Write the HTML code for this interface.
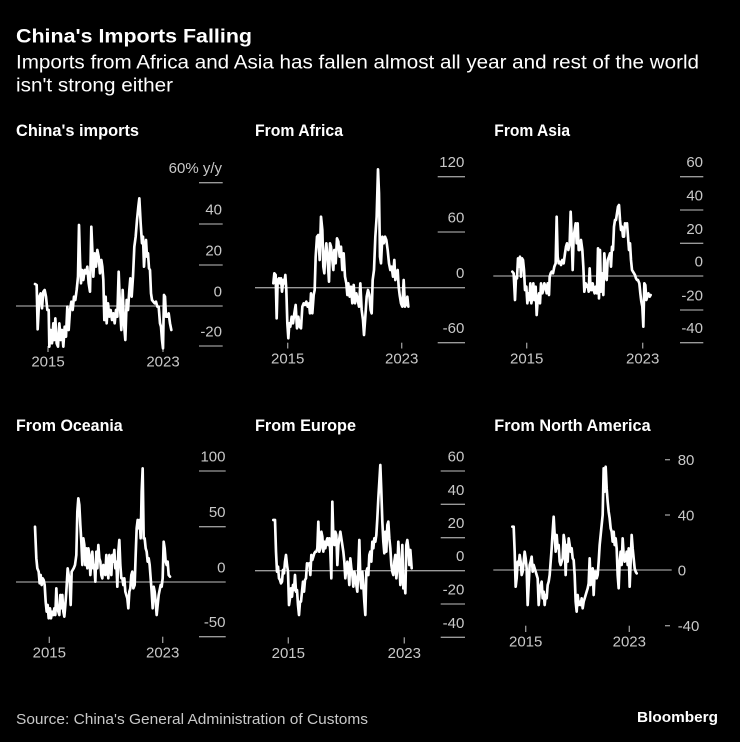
<!DOCTYPE html>
<html>
<head>
<meta charset="utf-8">
<style>
html,body{margin:0;padding:0;background:#000;}
body{width:740px;height:742px;overflow:hidden;}
svg{display:block;}
text{font-family:"Liberation Sans",sans-serif;}
.t{fill:#fff;font-weight:bold;}
.st{fill:#fff;}
.pt{fill:#fff;font-weight:bold;font-size:16.5px;}
.yl{fill:#c8c8c8;font-size:15px;text-anchor:end;}
.yl6{fill:#c8c8c8;font-size:15px;}
.xl{fill:#c8c8c8;font-size:15px;text-anchor:middle;}
.g{stroke:#9a9a9a;stroke-width:1.3;}
.tk{stroke:#9a9a9a;stroke-width:1.3;}
.d{fill:none;stroke:#fff;stroke-width:8;stroke-linejoin:round;stroke-linecap:round;}
</style>
</head>
<body>
<svg width="740" height="742" viewBox="0 0 740 742" xmlns="http://www.w3.org/2000/svg">
<rect width="740" height="742" fill="#000"/>

<text class="t" x="16" y="42.3" font-size="19.5" textLength="236" lengthAdjust="spacingAndGlyphs">China's Imports Falling</text>
<text class="st" x="16" y="68.3" font-size="19" textLength="683" lengthAdjust="spacingAndGlyphs">Imports from Africa and Asia has fallen almost all year and rest of the world</text>
<text class="st" x="16" y="91.3" font-size="19" textLength="157" lengthAdjust="spacingAndGlyphs">isn't strong either</text>

<!-- Panel 1 -->
<text class="pt" x="16" y="136" textLength="123" lengthAdjust="spacingAndGlyphs">China's imports</text>
<line class="g" x1="199" x2="222.7" y1="182.7" y2="182.7"/>
<line class="g" x1="199" x2="222.7" y1="224" y2="224"/>
<line class="g" x1="199" x2="222.7" y1="265" y2="265"/>
<line class="g" x1="199" x2="222.7" y1="346" y2="346"/>
<text class="yl" x="222" y="173.2">60% y/y</text>
<text class="yl" x="222" y="214.5">40</text>
<text class="yl" x="222" y="255.5">20</text>
<text class="yl" x="222" y="296.5">0</text>
<text class="yl" x="222" y="336.5">-20</text>
<line class="tk" x1="48" x2="48" y1="346" y2="352"/>
<line class="tk" x1="163" x2="163" y1="346" y2="352"/>
<text class="xl" x="48" y="366.7">2015</text>
<text class="xl" x="163" y="366.7">2023</text>
<line class="g" x1="16" x2="222.7" y1="306" y2="306"/>
<g transform="translate(0,110) scale(0.333333)">
<polyline class="d" points="105,522 110,525 113,658 118,560 122,550 126,595 130,545 134,540 138,560 142,600 146,600 148,710 152,660 156,700 160,640 163,690 166,625 170,700 174,710 178,640 182,690 186,660 190,710 194,650 198,680 202,590 206,660 210,600 214,575 218,600 222,560 226,570 230,540 234,500 237,345 240,450 243,520 246,480 250,510 254,480 258,490 262,470 266,520 270,545 274,350 277,420 280,500 284,430 288,470 292,420 296,440 300,490 304,450 307,470 310,510 313,630 317,560 320,640 324,580 328,620 332,600 336,630 340,610 344,640 348,600 352,620 356,485 360,590 364,660 368,540 372,640 376,690 380,570 384,600 388,540 391,505 395,560 399,500 403,410 407,380 411,330 415,290 418,265 422,340 426,400 429,380 432,470 435,420 438,390 441,440 444,430 447,475 450,480 453,550 456,570 460,575 464,580 468,575 472,590 476,590 480,640 483,650 486,690 489,715 492,555 495,560 498,620 502,620 506,610 510,640 514,660"/>
</g>

<!-- Panel 2 -->
<text class="pt" x="255" y="136" textLength="88" lengthAdjust="spacingAndGlyphs">From Africa</text>
<line class="g" x1="437.7" x2="465" y1="176.7" y2="176.7"/>
<line class="g" x1="437.7" x2="465" y1="232" y2="232"/>
<line class="g" x1="437.7" x2="465" y1="342.7" y2="342.7"/>
<text class="yl" x="464.3" y="167.2">120</text>
<text class="yl" x="464.3" y="222.5">60</text>
<text class="yl" x="464.3" y="278.2">0</text>
<text class="yl" x="464.3" y="333.2">-60</text>
<line class="tk" x1="287.7" x2="287.7" y1="342.7" y2="348.5"/>
<line class="tk" x1="401.7" x2="401.7" y1="342.7" y2="348.5"/>
<text class="xl" x="287.7" y="363.4">2015</text>
<text class="xl" x="401.7" y="363.4">2023</text>
<line class="g" x1="255" x2="465" y1="287.7" y2="287.7"/>
<g transform="translate(245,110) scale(0.333333)">
<polyline class="d" points="85,520 88,490 92,495 95,625 98,510 102,505 105,520 108,505 111,545 115,510 118,520 121,495 124,540 127,640 130,685 133,640 136,650 140,620 144,640 148,610 152,585 156,655 160,620 164,650 168,655 172,590 176,580 180,585 184,575 188,590 192,580 195,610 198,550 202,610 206,555 209,540 212,440 216,380 220,375 224,450 228,320 232,360 235,470 238,490 241,430 244,400 248,450 252,515 255,400 258,410 262,450 265,480 268,420 272,460 276,385 280,395 284,440 288,410 292,480 296,430 300,500 304,520 307,555 310,520 314,560 318,530 322,580 326,525 330,580 334,550 338,570 342,590 346,520 350,600 354,630 357,675 361,620 365,560 369,540 373,555 377,600 380,610 383,510 387,480 391,380 395,320 399,178 402,250 405,440 408,460 412,380 416,400 420,380 424,390 428,420 432,460 436,480 440,470 444,500 448,450 451,510 455,490 458,480 461,530 464,555 468,580 472,590 476,510 480,590 484,580 487,560 490,590"/>
</g>

<!-- Panel 3 -->
<text class="pt" x="494.3" y="136" textLength="75.7" lengthAdjust="spacingAndGlyphs">From Asia</text>
<line class="g" x1="680" x2="703.3" y1="176.7" y2="176.7"/>
<line class="g" x1="680" x2="703.3" y1="210" y2="210"/>
<line class="g" x1="680" x2="703.3" y1="243.3" y2="243.3"/>
<line class="g" x1="680" x2="703.3" y1="310" y2="310"/>
<line class="g" x1="680" x2="703.3" y1="342.7" y2="342.7"/>
<text class="yl" x="703" y="167.2">60</text>
<text class="yl" x="703" y="200.5">40</text>
<text class="yl" x="703" y="233.8">20</text>
<text class="yl" x="703" y="266.5">0</text>
<text class="yl" x="703" y="300.5">-20</text>
<text class="yl" x="703" y="333.2">-40</text>
<line class="tk" x1="526.7" x2="526.7" y1="342.7" y2="348.5"/>
<line class="tk" x1="642.7" x2="642.7" y1="342.7" y2="348.5"/>
<text class="xl" x="526.7" y="363.4">2015</text>
<text class="xl" x="642.7" y="363.4">2023</text>
<line class="g" x1="493.3" x2="703.3" y1="276" y2="276"/>
<g transform="translate(485,110) scale(0.333333)">
<polyline class="d" points="82,485 86,490 90,570 93,500 96,505 99,445 102,470 105,440 108,500 111,445 114,450 117,480 120,540 124,530 127,580 130,550 133,570 136,520 139,580 142,560 145,520 148,570 152,530 155,615 158,570 162,550 165,580 168,520 172,550 175,540 178,520 182,530 185,550 188,520 192,555 194,500 197,490 200,485 204,490 208,470 212,460 215,320 218,440 221,460 224,455 228,465 232,450 236,460 240,430 243,410 246,400 250,420 254,400 257,305 260,380 263,480 266,380 269,360 272,340 275,400 278,340 281,420 284,420 288,390 292,420 295,470 298,545 302,520 305,530 308,525 311,545 314,475 317,540 320,540 323,520 326,540 329,550 332,530 336,550 339,415 342,565 345,420 348,545 351,490 355,555 358,430 362,500 365,510 368,450 372,440 375,430 378,470 381,410 384,420 387,350 390,330 393,330 396,310 399,290 402,285 405,330 408,360 411,350 414,380 417,380 420,340 423,350 426,340 429,380 432,420 435,400 438,450 441,480 444,485 447,490 450,495 453,505 456,510 459,510 463,520 466,550 469,575 472,590 475,650 478,520 481,525 484,570 487,560 490,550 494,560 497,555"/>
</g>

<!-- Panel 4 -->
<text class="pt" x="16" y="431" textLength="106.7" lengthAdjust="spacingAndGlyphs">From Oceania</text>
<line class="g" x1="199" x2="225.7" y1="471" y2="471"/>
<line class="g" x1="199" x2="225.7" y1="526.7" y2="526.7"/>
<line class="g" x1="199" x2="225.7" y1="636.7" y2="636.7"/>
<text class="yl" x="225.5" y="461.5">100</text>
<text class="yl" x="225.5" y="517.2">50</text>
<text class="yl" x="225.5" y="572.5">0</text>
<text class="yl" x="225.5" y="627.2">-50</text>
<line class="tk" x1="49.3" x2="49.3" y1="636.7" y2="643"/>
<line class="tk" x1="162.7" x2="162.7" y1="636.7" y2="643"/>
<text class="xl" x="49.3" y="657.5">2015</text>
<text class="xl" x="162.7" y="657.5">2023</text>
<line class="g" x1="16" x2="225.7" y1="582" y2="582"/>
<g transform="translate(0,405) scale(0.333333)">
<polyline class="d" points="105,365 109,460 112,490 116,500 119,535 122,510 125,540 128,520 131,525 134,540 137,590 140,620 143,600 146,640 150,610 153,640 156,620 160,630 163,610 166,630 169,550 172,610 175,620 178,630 181,570 184,610 187,570 190,620 193,635 196,600 199,560 203,490 206,510 209,530 212,600 215,500 218,495 221,490 225,480 229,450 232,320 235,280 238,300 241,360 244,410 247,480 250,400 253,420 256,480 259,430 262,490 265,430 268,450 271,510 274,470 277,440 280,490 283,480 286,530 289,440 292,490 295,420 298,460 301,470 304,510 307,520 310,480 313,500 316,510 319,450 322,490 325,520 328,450 331,460 334,510 337,450 340,470 343,435 346,490 349,470 352,545 355,440 358,405 361,480 364,520 367,520 370,540 373,520 376,560 379,570 382,580 385,610 388,560 391,550 394,510 397,500 400,550 404,540 407,450 410,370 413,345 416,370 419,345 422,400 425,260 428,190 431,400 434,400 437,430 440,440 443,470 446,460 449,480 452,520 455,560 458,610 461,545 464,560 467,590 470,630 473,600 476,570 479,555 482,540 485,545 488,520 491,410 494,430 497,470 500,480 503,470 506,510 510,515"/>
</g>

<!-- Panel 5 -->
<text class="pt" x="255" y="431" textLength="101" lengthAdjust="spacingAndGlyphs">From Europe</text>
<line class="g" x1="440.7" x2="465" y1="471" y2="471"/>
<line class="g" x1="440.7" x2="465" y1="504.3" y2="504.3"/>
<line class="g" x1="440.7" x2="465" y1="537.7" y2="537.7"/>
<line class="g" x1="440.7" x2="465" y1="604" y2="604"/>
<line class="g" x1="440.7" x2="465" y1="637.3" y2="637.3"/>
<text class="yl" x="464.3" y="461.5">60</text>
<text class="yl" x="464.3" y="494.8">40</text>
<text class="yl" x="464.3" y="528.2">20</text>
<text class="yl" x="464.3" y="561.2">0</text>
<text class="yl" x="464.3" y="594.5">-20</text>
<text class="yl" x="464.3" y="627.8">-40</text>
<line class="tk" x1="288.3" x2="288.3" y1="637.3" y2="643.5"/>
<line class="tk" x1="404.3" x2="404.3" y1="637.3" y2="643.5"/>
<text class="xl" x="288.3" y="658">2015</text>
<text class="xl" x="404.3" y="658">2023</text>
<line class="g" x1="255" x2="465" y1="570.7" y2="570.7"/>
<g transform="translate(245,405) scale(0.333333)">
<polyline class="d" points="85,345 90,345 93,440 96,500 99,485 102,520 105,525 108,535 111,530 114,495 117,505 120,470 123,450 126,480 129,500 132,600 135,580 138,550 141,575 144,540 147,555 150,510 153,560 156,555 159,600 162,630 165,590 168,590 171,560 174,530 177,560 180,525 183,520 186,475 190,480 193,475 196,510 199,450 202,465 205,455 208,445 211,440 214,440 217,430 220,350 223,440 226,430 229,380 232,395 235,440 238,410 241,430 244,410 247,400 250,420 253,400 256,440 259,520 262,290 265,395 268,420 271,380 274,390 277,480 280,420 283,400 286,380 289,400 292,420 295,440 298,470 301,520 304,490 307,470 310,500 313,540 316,460 319,490 322,510 325,545 328,500 331,515 334,540 337,560 340,490 343,405 346,520 349,550 352,500 355,540 358,590 361,630 364,500 367,490 370,510 373,450 376,440 379,470 382,410 385,430 388,400 391,410 394,390 397,340 400,280 403,230 406,180 409,260 412,350 415,410 418,445 421,380 424,440 427,360 430,350 433,400 436,430 439,480 442,500 445,510 448,470 451,450 454,520 457,490 460,410 463,470 466,540 469,510 472,420 475,550 478,520 481,565 484,420 487,405 490,430 493,480 496,435 500,490"/>
</g>

<!-- Panel 6 -->
<text class="pt" x="494.3" y="431" textLength="156.3" lengthAdjust="spacingAndGlyphs">From North America</text>
<line class="g" x1="665" x2="670" y1="459.7" y2="459.7"/>
<line class="g" x1="665" x2="670" y1="515" y2="515"/>
<line class="g" x1="665" x2="670" y1="625.7" y2="625.7"/>
<text class="yl6" x="677.7" y="465">80</text>
<text class="yl6" x="677.7" y="520.3">40</text>
<text class="yl6" x="677.7" y="575.3">0</text>
<text class="yl6" x="677.7" y="631">-40</text>
<line class="tk" x1="525.7" x2="525.7" y1="625.7" y2="632"/>
<line class="tk" x1="629.3" x2="629.3" y1="625.7" y2="632"/>
<text class="xl" x="525.7" y="646.4">2015</text>
<text class="xl" x="629.3" y="646.4">2023</text>
<line class="g" x1="493.3" x2="671.7" y1="570" y2="570"/>
<g transform="translate(485,405) scale(0.333333)">
<polyline class="d" points="82,365 86,365 89,440 92,545 95,520 98,470 101,480 104,450 107,470 110,510 113,500 116,470 119,440 122,460 125,490 128,600 131,540 134,480 137,470 140,455 143,500 146,480 149,490 152,500 155,510 158,520 161,600 164,560 167,540 170,530 173,580 176,560 179,600 182,570 185,580 188,540 191,530 194,510 197,470 200,430 203,380 206,335 209,390 212,440 215,390 218,430 221,420 224,470 227,480 230,470 233,460 236,390 239,410 242,510 245,420 248,470 251,400 254,420 257,440 260,430 263,460 266,465 269,510 272,590 275,620 278,570 281,600 284,590 287,600 290,580 293,610 296,590 299,580 302,570 305,560 308,550 311,535 314,460 317,540 320,510 323,490 326,570 329,500 332,500 335,520 338,510 341,470 344,420 347,390 350,360 353,330 356,190 359,260 362,185 365,250 368,290 371,320 374,340 377,370 380,380 383,410 386,380 389,420 392,400 395,430 398,510 401,550 404,470 407,440 410,480 413,400 416,450 419,470 422,460 425,440 428,480 431,430 434,545 437,470 440,390 443,430 446,460 449,490 452,500 455,505"/>
</g>

<!-- Footer -->
<text x="16" y="724" font-size="15" fill="#c8c8c8" textLength="352" lengthAdjust="spacingAndGlyphs">Source: China's General Administration of Customs</text>
<text x="637" y="722" font-size="15" font-weight="bold" fill="#fff" textLength="81" lengthAdjust="spacingAndGlyphs">Bloomberg</text>
</svg>
</body>
</html>
